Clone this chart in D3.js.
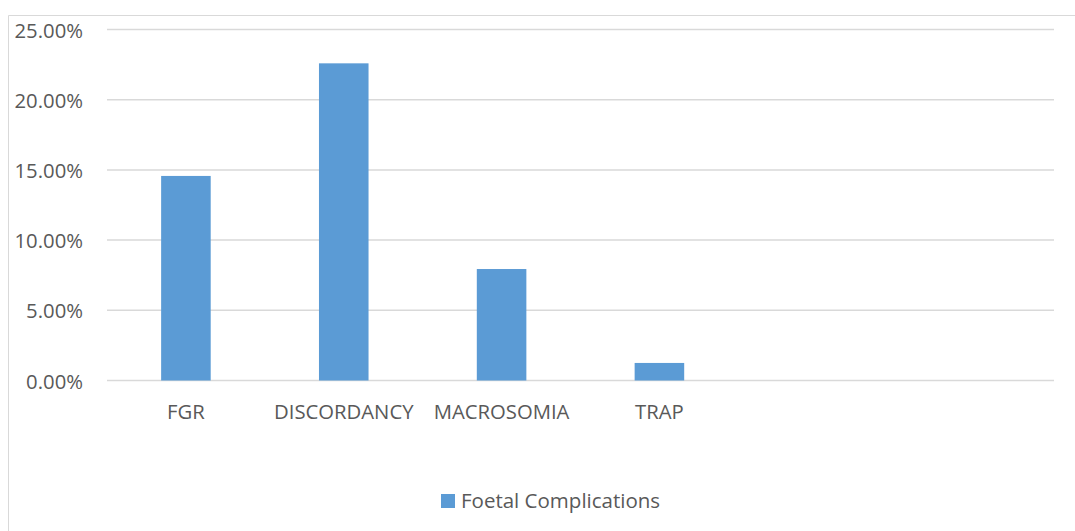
<!DOCTYPE html>
<html>
<head>
<meta charset="utf-8">
<script src="https://cdn.jsdelivr.net/npm/d3@7"></script>
<style>
  html, body { margin: 0; padding: 0; background: #fff; }
  svg { display: block; }
  text { font-family: "Open Sans", Lato, sans-serif; fill: #595959; }
</style>
</head>
<body>
<svg id="chart" width="1075" height="531"></svg>
<script>
// Foetal complications, share of cases
const categories = ["FGR", "DISCORDANCY", "MACROSOMIA", "TRAP", "", " "];
const values = [0.1457, 0.2259, 0.0794, 0.0125, null, null];
const yTicks = [0, 0.05, 0.10, 0.15, 0.20, 0.25];
const seriesName = "Foetal Complications";

const W = 1075, H = 531;
const svg = d3.select("#chart");

// chart frame (top and left edges visible)
svg.append("path")
  .attr("d", `M8.5,${H} V15.5 H${W}`)
  .attr("fill", "none")
  .attr("stroke", "#d9d9d9")
  .attr("stroke-width", 1);

const plot = { left: 107, right: 1054, top: 29.5, bottom: 380.5 };

const x = d3.scaleBand()
  .domain(categories)
  .range([plot.left, plot.right])
  .paddingInner(0.686)
  .paddingOuter(0.343);

const y = d3.scaleLinear()
  .domain([0, 0.25])
  .range([plot.bottom, plot.top]);

// gridlines
svg.append("g")
  .selectAll("line")
  .data(yTicks)
  .join("line")
  .attr("x1", plot.left)
  .attr("x2", plot.right)
  .attr("y1", d => y(d))
  .attr("y2", d => y(d))
  .attr("stroke", "#d9d9d9")
  .attr("stroke-width", 1.5);

// y axis labels
const fmt = d3.format(".2%");
svg.append("g")
  .selectAll("text")
  .data(yTicks)
  .join("text")
  .attr("x", 83)
  .attr("y", d => y(d) + 8)
  .attr("text-anchor", "end")
  .attr("font-size", 20.3)
  .text(d => fmt(d));

// bars
svg.append("g")
  .selectAll("rect")
  .data(categories.map((c, i) => ({ c, v: values[i] })).filter(d => d.v != null))
  .join("rect")
  .attr("x", d => x(d.c))
  .attr("width", x.bandwidth())
  .attr("y", d => y(d.v))
  .attr("height", d => y(0) - y(d.v))
  .attr("fill", "#5b9bd5");

// category labels
svg.append("g")
  .selectAll("text")
  .data(categories)
  .join("text")
  .attr("x", d => x(d) + x.bandwidth() / 2)
  .attr("y", 419)
  .attr("text-anchor", "middle")
  .attr("font-size", 20.3)
  .text(d => d.trim());

// legend
const lg = svg.append("g");
lg.append("rect")
  .attr("x", 441).attr("y", 494)
  .attr("width", 14).attr("height", 14)
  .attr("fill", "#5b9bd5");
lg.append("text")
  .attr("x", 461).attr("y", 508)
  .attr("font-size", 20.5)
  .text(seriesName);
</script>
</body>
</html>
